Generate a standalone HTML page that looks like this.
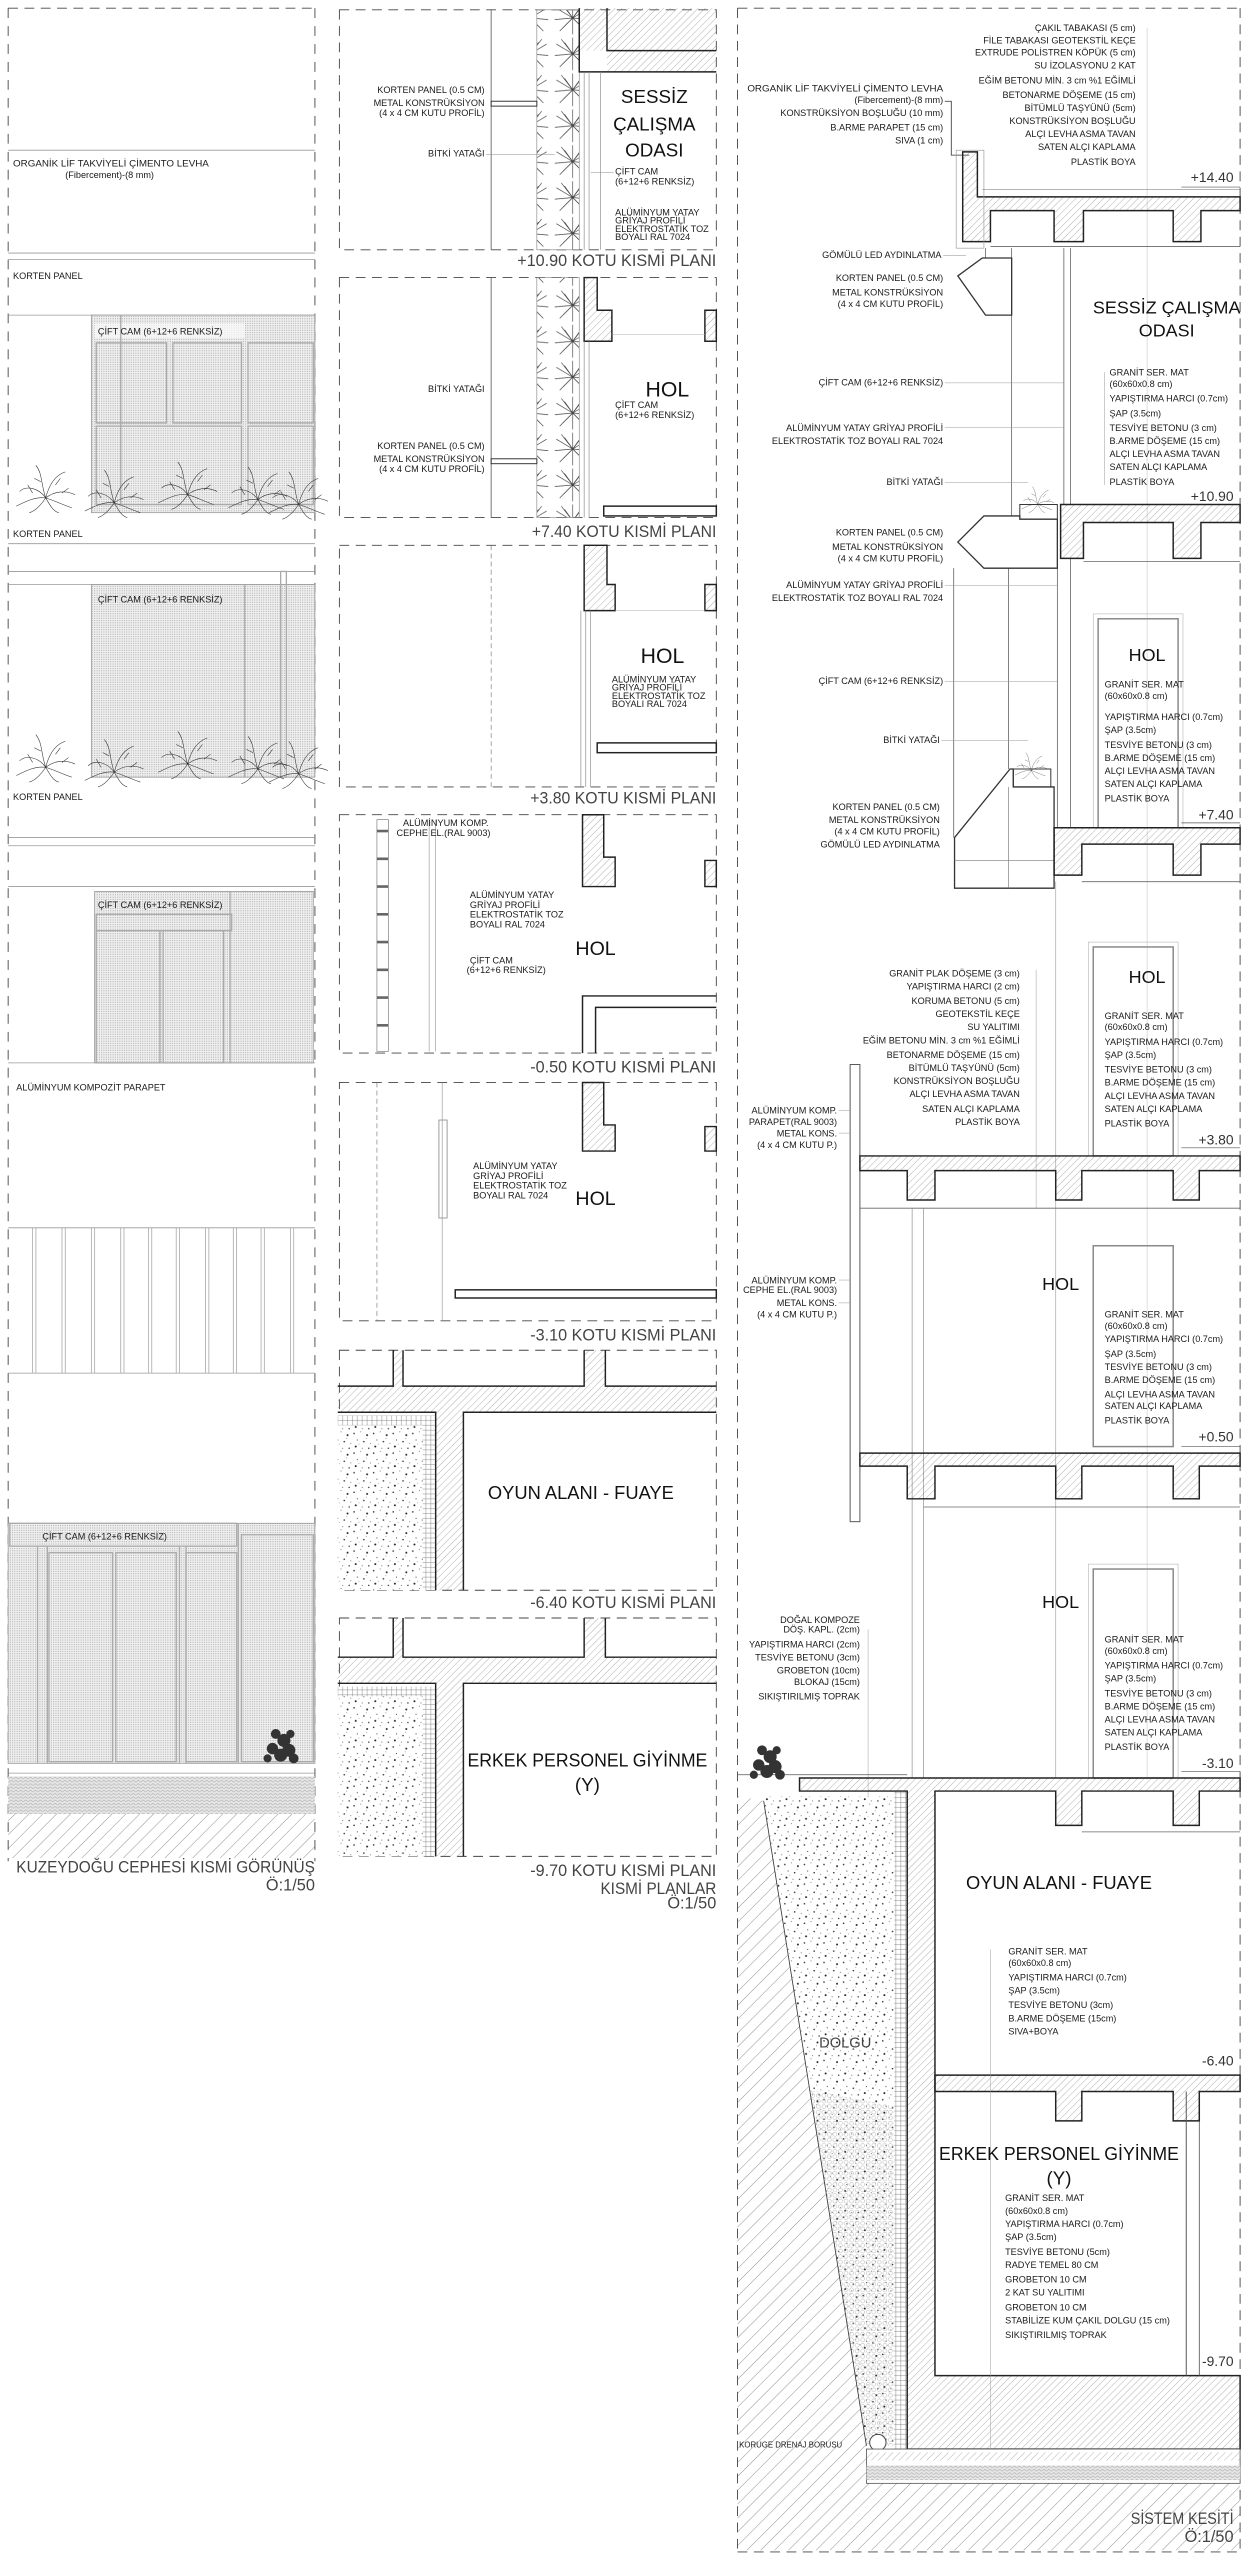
<!DOCTYPE html>
<html><head><meta charset="utf-8">
<style>
html,body{margin:0;padding:0;background:#fff;}
svg{display:block;}
text{font-family:"Liberation Sans",sans-serif;fill:#1a1a1a;}
.s{font-size:5.6px;}
.sr{font-size:5.6px;text-anchor:end;}
.t{font-size:10px;fill:#444;text-anchor:end;}
.big{font-size:11.5px;text-anchor:middle;fill:#111;}
.lv{font-size:8.5px;text-anchor:end;fill:#333;}
</style></head>
<body>
<svg width="1245" height="2560" viewBox="0 0 1245 2560" xmlns="http://www.w3.org/2000/svg">
<defs>
<pattern id="h" width="3" height="3" patternUnits="userSpaceOnUse" patternTransform="rotate(45)"><line x1="0" y1="0" x2="0" y2="3" stroke="#777" stroke-width="0.35"/></pattern>
<pattern id="hb" width="6" height="6" patternUnits="userSpaceOnUse" patternTransform="rotate(45)"><line x1="0" y1="0" x2="0" y2="6" stroke="#555" stroke-width="0.4"/></pattern>
<pattern id="d" width="1.4" height="1.4" patternUnits="userSpaceOnUse"><rect width="1.4" height="1.4" fill="#f1f1f1"/><circle cx="0.7" cy="0.7" r="0.32" fill="#9a9a9a"/></pattern>
<pattern id="g" width="12" height="12" patternUnits="userSpaceOnUse"><rect width="12" height="12" fill="#fff"/><circle cx="1" cy="2" r="0.5" fill="#333"/><circle cx="5" cy="1" r="0.3" fill="#555"/><circle cx="9" cy="3" r="0.6" fill="#222"/><circle cx="3" cy="6" r="0.35" fill="#444"/><circle cx="7" cy="7" r="0.5" fill="#333"/><circle cx="11" cy="8" r="0.3" fill="#555"/><circle cx="2" cy="10" r="0.6" fill="#222"/><circle cx="6" cy="11" r="0.3" fill="#444"/><circle cx="10" cy="11" r="0.45" fill="#333"/><circle cx="8.5" cy="5" r="0.25" fill="#666"/><circle cx="4" cy="8.5" r="0.25" fill="#666"/></pattern>
<pattern id="gs" width="3" height="2" patternUnits="userSpaceOnUse"><rect width="3" height="2" fill="#e6e6e6"/><path d="M0 1 Q0.75 0 1.5 1 T3 1" stroke="#999" stroke-width="0.3" fill="none"/></pattern>
<pattern id="o" width="3.4" height="3.4" patternUnits="userSpaceOnUse"><circle cx="1.7" cy="1.7" r="1.2" fill="none" stroke="#aaa" stroke-width="0.3"/></pattern>
<pattern id="br" width="3" height="3" patternUnits="userSpaceOnUse"><rect width="3" height="3" fill="#fff" stroke="#888" stroke-width="0.3"/></pattern>
<pattern id="lf" width="26" height="22" patternUnits="userSpaceOnUse"><g stroke="#444" stroke-width="0.4" fill="none"><path d="M13 11 L3 5 M13 11 L6 2 M13 11 L13 1 M13 11 L20 2 M13 11 L23 5 M13 11 L24 12 M13 11 L21 19 M13 11 L13 21 M13 11 L5 19 M13 11 L2 12"/><path d="M13 11 L8 4 L10 7 M13 11 L18 4 M13 11 L19 17 M13 11 L7 17"/></g></pattern>
<g id="plant"><g stroke="#333" stroke-width="0.35" fill="none"><path d="M0 0 C-4 -6 -12 -8 -16 -4 M0 0 C-3 -9 -2 -15 -6 -20 M0 0 C2 -8 6 -14 12 -16 M0 0 C5 -4 12 -5 18 -2 M0 0 C-6 -1 -12 2 -18 5 M0 0 C4 1 10 4 16 6 M0 0 C-2 3 -6 8 -10 9 M0 0 C2 3 4 8 8 9 M-8 -3 L-11 -8 M6 -8 L9 -12 M-3 -10 L-7 -12 M10 -3 L14 -6"/></g></g>
<g id="bush"><g fill="#333"><circle cx="0" cy="0" r="4"/><circle cx="5" cy="-3" r="4"/><circle cx="-5" cy="-4" r="3.5"/><circle cx="2" cy="-9" r="4"/><circle cx="-3" cy="-13" r="3"/><circle cx="6" cy="-13" r="2.5"/><circle cx="8" cy="2" r="3"/><circle cx="-8" cy="2" r="2.5"/></g></g>
</defs>
<g transform="scale(1.6317,1.6327)" stroke-linecap="butt">

<!-- ============ LEFT COLUMN ============ -->
<g fill="none" stroke="#444" stroke-width="0.55">
<line x1="5" y1="5" x2="193" y2="5" stroke-dasharray="6,4"/>
<line x1="5" y1="5" x2="5" y2="1140" stroke-dasharray="6,5"/>
<line x1="193" y1="5" x2="193" y2="1140" stroke-dasharray="6,5"/>
</g>
<g stroke="#999" stroke-width="0.5">
<line x1="5" y1="92" x2="193" y2="92"/>
<line x1="5" y1="155" x2="193" y2="155"/><line x1="5" y1="159" x2="193" y2="159"/>
<line x1="5" y1="193" x2="193" y2="193"/>
<line x1="5" y1="333" x2="193" y2="333"/>
<line x1="5" y1="350" x2="193" y2="350"/><line x1="5" y1="358" x2="193" y2="358"/>
<line x1="5" y1="513" x2="193" y2="513"/><line x1="5" y1="518" x2="193" y2="518"/>
<line x1="5" y1="543" x2="193" y2="543"/>
<line x1="5" y1="651" x2="193" y2="651"/>
<line x1="5" y1="752" x2="193" y2="752"/><line x1="5" y1="841" x2="193" y2="841"/>
<line x1="5" y1="1086" x2="193" y2="1086"/>
</g>
<text class="s" x="8" y="102" textLength="120" lengthAdjust="spacingAndGlyphs">ORGANİK LİF TAKVİYELİ ÇİMENTO LEVHA</text>
<text class="s" x="40" y="109">(Fibercement)-(8 mm)</text>
<text class="s" x="8" y="171">KORTEN PANEL</text>
<!-- glass 1 -->
<rect x="56" y="193" width="137" height="121" fill="url(#d)" stroke="#999" stroke-width="0.5"/>
<rect x="58" y="198" width="92" height="9" fill="#fff" opacity="0.6"/>
<g fill="none" stroke="#aaa" stroke-width="0.8">
<rect x="59" y="210" width="43" height="49"/><rect x="106" y="210" width="42" height="49"/><rect x="152" y="210" width="40" height="49"/>
<rect x="59" y="261" width="89" height="48"/><rect x="152" y="261" width="40" height="48"/>
<line x1="74" y1="193" x2="74" y2="309"/>
</g>
<text class="s" x="60" y="205">ÇİFT CAM (6+12+6 RENKSİZ)</text>
<use href="#plant" x="28" y="305"/><use href="#plant" x="70" y="308"/><use href="#plant" x="115" y="303"/><use href="#plant" x="158" y="306"/><use href="#plant" x="183" y="309"/>
<text class="s" x="8" y="329">KORTEN PANEL</text>
<!-- glass 2 -->
<rect x="56" y="358" width="137" height="118" fill="url(#d)" stroke="#999" stroke-width="0.5"/>
<g fill="none" stroke="#aaa" stroke-width="0.8"><line x1="150" y1="358" x2="150" y2="476"/><rect x="172" y="350" width="3.5" height="126"/></g>
<text class="s" x="60" y="369">ÇİFT CAM (6+12+6 RENKSİZ)</text>
<use href="#plant" x="28" y="470"/><use href="#plant" x="70" y="473"/><use href="#plant" x="115" y="468"/><use href="#plant" x="158" y="471"/><use href="#plant" x="183" y="474"/>
<text class="s" x="8" y="490">KORTEN PANEL</text>
<!-- glass 3 -->
<rect x="58" y="546" width="134" height="105" fill="url(#d)" stroke="#999" stroke-width="0.5"/>
<g fill="none" stroke="#aaa" stroke-width="0.8"><rect x="59" y="560" width="83" height="10"/><rect x="59" y="570" width="39" height="81"/><rect x="100" y="570" width="37" height="81"/><line x1="141" y1="546" x2="141" y2="651"/></g>
<text class="s" x="60" y="556">ÇİFT CAM (6+12+6 RENKSİZ)</text>
<text class="s" x="10" y="668">ALÜMİNYUM KOMPOZİT PARAPET</text>
<g stroke="#aaa" stroke-width="0.5">
<line x1="20" y1="752" x2="20" y2="841"/><line x1="22" y1="752" x2="22" y2="841"/>
<line x1="38" y1="752" x2="38" y2="841"/><line x1="40" y1="752" x2="40" y2="841"/>
<line x1="56" y1="752" x2="56" y2="841"/><line x1="58" y1="752" x2="58" y2="841"/>
<line x1="74" y1="752" x2="74" y2="841"/><line x1="76" y1="752" x2="76" y2="841"/>
<line x1="91" y1="752" x2="91" y2="841"/><line x1="93" y1="752" x2="93" y2="841"/>
<line x1="108" y1="752" x2="108" y2="841"/><line x1="110" y1="752" x2="110" y2="841"/>
<line x1="126" y1="752" x2="126" y2="841"/><line x1="128" y1="752" x2="128" y2="841"/>
<line x1="143" y1="752" x2="143" y2="841"/><line x1="145" y1="752" x2="145" y2="841"/>
<line x1="160" y1="752" x2="160" y2="841"/><line x1="162" y1="752" x2="162" y2="841"/>
<line x1="178" y1="752" x2="178" y2="841"/><line x1="180" y1="752" x2="180" y2="841"/>
</g>
<!-- glass 4 -->
<rect x="5" y="933" width="188" height="147" fill="url(#d)" stroke="#999" stroke-width="0.5"/>
<g fill="none" stroke="#aaa" stroke-width="0.8"><rect x="6" y="933" width="139" height="14"/><rect x="30" y="951" width="39" height="128"/><rect x="71" y="951" width="37" height="128"/><line x1="23" y1="947" x2="23" y2="1080"/><line x1="29" y1="947" x2="29" y2="1080"/><line x1="110" y1="947" x2="110" y2="1080"/><line x1="114" y1="947" x2="114" y2="1080"/><rect x="114" y="951" width="31" height="128"/><line x1="146" y1="933" x2="146" y2="1080"/><rect x="148" y="940" width="44" height="139"/></g>
<text class="s" x="26" y="943">ÇİFT CAM (6+12+6 RENKSİZ)</text>
<rect x="5" y="1088" width="188" height="23" fill="url(#gs)"/>
<rect x="5" y="1111" width="188" height="27" fill="url(#hb)"/>
<use href="#bush" x="172" y="1075"/>
<text class="t" x="193" y="1147" textLength="183" lengthAdjust="spacingAndGlyphs">KUZEYDOĞU CEPHESİ KISMİ GÖRÜNÜŞ</text>
<text class="t" x="193" y="1158">Ö:1/50</text>

<!-- ============ MIDDLE COLUMN ============ -->
<g fill="none" stroke="#444" stroke-width="0.55" stroke-dasharray="6,4">
<rect x="208" y="6" width="231" height="147"/>
<rect x="208" y="170" width="231" height="147"/>
<rect x="208" y="334" width="231" height="148"/>
<rect x="208" y="499" width="231" height="146"/>
<rect x="208" y="663" width="231" height="146"/>
<rect x="208" y="827" width="231" height="147"/>
<rect x="208" y="991" width="231" height="146"/>
</g>
<!-- panel 1 -->
<line x1="301" y1="6" x2="301" y2="153" stroke="#555" stroke-width="0.5"/>
<rect x="329" y="6" width="26" height="147" fill="url(#lf)" stroke="#888" stroke-width="0.4"/>
<path d="M355 5 H439 V44 H372 V31 H355 Z" fill="url(#h)"/>
<path d="M355 5 V44 H439 M372 5 V31 H439" fill="none" stroke="#222" stroke-width="0.9"/>
<g stroke="#888" stroke-width="0.4"><line x1="358" y1="44" x2="358" y2="153"/><line x1="361" y1="44" x2="361" y2="153"/><line x1="368" y1="44" x2="368" y2="153"/></g>
<rect x="301" y="62" width="28" height="3" fill="none" stroke="#333" stroke-width="0.6"/>
<text class="big" x="401" y="63">SESSİZ</text><text class="big" x="401" y="80">ÇALIŞMA</text><text class="big" x="401" y="96">ODASI</text>
<text class="sr" x="297" y="57">KORTEN PANEL (0.5 CM)</text>
<text class="sr" x="297" y="65">METAL KONSTRÜKSİYON</text>
<text class="sr" x="297" y="71">(4 x 4 CM KUTU PROFİL)</text>
<text class="sr" x="297" y="96">BİTKİ YATAĞI</text>
<line x1="298" y1="94.5" x2="340" y2="94.5" stroke="#888" stroke-width="0.3"/>
<text class="s" x="377" y="107">ÇİFT CAM</text><text class="s" x="377" y="113">(6+12+6 RENKSİZ)</text>
<line x1="362" y1="105.5" x2="376" y2="105.5" stroke="#888" stroke-width="0.3"/>
<text class="s" x="377" y="132">ALÜMİNYUM YATAY</text><text class="s" x="377" y="137">GRİYAJ PROFİLİ</text><text class="s" x="377" y="142">ELEKTROSTATİK TOZ</text><text class="s" x="377" y="147">BOYALI RAL 7024</text>
<text class="t" x="439" y="163" textLength="122" lengthAdjust="spacingAndGlyphs">+10.90 KOTU KISMİ PLANI</text>
<!-- panel 2 -->
<line x1="301" y1="170" x2="301" y2="317" stroke="#555" stroke-width="0.5"/>
<rect x="329" y="170" width="26" height="147" fill="url(#lf)" stroke="#888" stroke-width="0.4"/>
<path d="M358 170 H366 V190 H375 V209 H358 Z" fill="url(#h)" stroke="#222" stroke-width="0.9"/>
<path d="M432 190 H439 V209 H432 Z" fill="url(#h)" stroke="#222" stroke-width="0.9"/>
<line x1="375" y1="205" x2="432" y2="205" stroke="#aaa" stroke-width="0.3"/>
<g stroke="#888" stroke-width="0.4"><line x1="358" y1="209" x2="358" y2="317"/><line x1="361" y1="209" x2="361" y2="317"/></g>
<rect x="301" y="281" width="28" height="3" fill="none" stroke="#333" stroke-width="0.6"/>
<rect x="370" y="310" width="69" height="6" fill="#fff" stroke="#222" stroke-width="0.9"/>
<text class="big" x="409" y="243" style="font-size:13px">HOL</text>
<text class="s" x="377" y="250">ÇİFT CAM</text><text class="s" x="377" y="256">(6+12+6 RENKSİZ)</text>
<text class="sr" x="297" y="240">BİTKİ YATAĞI</text>
<text class="sr" x="297" y="275">KORTEN PANEL (0.5 CM)</text>
<text class="sr" x="297" y="283">METAL KONSTRÜKSİYON</text>
<text class="sr" x="297" y="289">(4 x 4 CM KUTU PROFİL)</text>
<text class="t" x="439" y="329" textLength="113" lengthAdjust="spacingAndGlyphs">+7.40 KOTU KISMİ PLANI</text>
<!-- panel 3 -->
<line x1="301" y1="334" x2="301" y2="482" stroke="#777" stroke-width="0.4" stroke-dasharray="3,2"/>
<path d="M358 334 H372 V358 H377 V374 H358 Z" fill="url(#h)" stroke="#222" stroke-width="0.9"/>
<path d="M432 358 H439 V374 H432 Z" fill="url(#h)" stroke="#222" stroke-width="0.9"/>
<line x1="377" y1="374" x2="432" y2="374" stroke="#aaa" stroke-width="0.3"/>
<g stroke="#888" stroke-width="0.4"><line x1="356" y1="374" x2="356" y2="482"/><line x1="359" y1="374" x2="359" y2="482"/><line x1="362" y1="374" x2="362" y2="482"/></g>
<rect x="366" y="455" width="73" height="6" fill="#fff" stroke="#222" stroke-width="0.9"/>
<text class="big" x="406" y="406" style="font-size:13px">HOL</text>
<text class="s" x="375" y="418">ALÜMİNYUM YATAY</text><text class="s" x="375" y="423">GRİYAJ PROFİLİ</text><text class="s" x="375" y="428">ELEKTROSTATİK TOZ</text><text class="s" x="375" y="433">BOYALI RAL 7024</text>
<text class="t" x="439" y="492" textLength="114" lengthAdjust="spacingAndGlyphs">+3.80 KOTU KISMİ PLANI</text>
<!-- panel 4 -->
<rect x="231" y="502" width="7" height="142" fill="none" stroke="#777" stroke-width="0.4"/>
<g stroke="#666" stroke-width="1.6"><line x1="231" y1="509" x2="238" y2="509"/><line x1="231" y1="526" x2="238" y2="526"/><line x1="231" y1="543" x2="238" y2="543"/><line x1="231" y1="560" x2="238" y2="560"/><line x1="231" y1="577" x2="238" y2="577"/><line x1="231" y1="594" x2="238" y2="594"/><line x1="231" y1="611" x2="238" y2="611"/><line x1="231" y1="628" x2="238" y2="628"/></g>
<g stroke="#999" stroke-width="0.4"><line x1="263" y1="502" x2="263" y2="644"/><line x1="267" y1="502" x2="267" y2="644"/></g>
<path d="M357 499 H370 V525 H377 V543 H357 Z" fill="url(#h)" stroke="#222" stroke-width="0.9"/>
<path d="M432 527 H439 V543 H432 Z" fill="url(#h)" stroke="#222" stroke-width="0.9"/>
<path d="M357 645 V610 H439 M365 645 V617 H439" fill="none" stroke="#222" stroke-width="0.9"/>
<text class="s" x="247" y="506">ALÜMİNYUM KOMP.</text><text class="s" x="243" y="512">CEPHE EL.(RAL 9003)</text>
<text class="s" x="288" y="550">ALÜMİNYUM YATAY</text><text class="s" x="288" y="556">GRİYAJ PROFİLİ</text><text class="s" x="288" y="562">ELEKTROSTATİK TOZ</text><text class="s" x="288" y="568">BOYALI RAL 7024</text>
<text class="s" x="288" y="590">ÇİFT CAM</text><text class="s" x="286" y="596">(6+12+6 RENKSİZ)</text>
<text class="big" x="365" y="585" style="font-size:12px">HOL</text>
<text class="t" x="439" y="657" textLength="114" lengthAdjust="spacingAndGlyphs">-0.50 KOTU KISMİ PLANI</text>
<!-- panel 5 -->
<line x1="231" y1="663" x2="231" y2="809" stroke="#777" stroke-width="0.4" stroke-dasharray="3,2"/>
<rect x="269" y="686" width="5" height="60" fill="none" stroke="#888" stroke-width="0.5"/>
<line x1="271" y1="663" x2="271" y2="809" stroke="#999" stroke-width="0.4"/>
<path d="M357 663 H370 V689 H377 V705 H357 Z" fill="url(#h)" stroke="#222" stroke-width="0.9"/>
<path d="M432 690 H439 V705 H432 Z" fill="url(#h)" stroke="#222" stroke-width="0.9"/>
<rect x="279" y="790" width="160" height="5" fill="#fff" stroke="#222" stroke-width="0.9"/>
<text class="s" x="290" y="716">ALÜMİNYUM YATAY</text><text class="s" x="290" y="722">GRİYAJ PROFİLİ</text><text class="s" x="290" y="728">ELEKTROSTATİK TOZ</text><text class="s" x="290" y="734">BOYALI RAL 7024</text>
<text class="big" x="365" y="738" style="font-size:12px">HOL</text>
<text class="t" x="439" y="821" textLength="114" lengthAdjust="spacingAndGlyphs">-3.10 KOTU KISMİ PLANI</text>
<!-- panel 6 -->
<rect x="207" y="849" width="232" height="16" fill="url(#h)"/>
<rect x="241" y="827" width="6" height="22" fill="url(#h)"/>
<rect x="358" y="827" width="13" height="22" fill="url(#h)"/>
<rect x="267" y="865" width="17" height="109" fill="url(#h)"/>
<rect x="207" y="873" width="52" height="101" fill="url(#g)"/>
<rect x="259" y="867" width="8" height="107" fill="url(#br)"/>
<rect x="207" y="867" width="52" height="6" fill="url(#br)"/>
<path d="M241 827 V849 H207 M247 827 V849 H358 V827 M371 827 V849 H439 M284 974 V865 H439 M207 865 H267 V974" fill="none" stroke="#222" stroke-width="0.9"/>
<text class="big" x="356" y="918" textLength="114" lengthAdjust="spacingAndGlyphs">OYUN ALANI - FUAYE</text>
<text class="t" x="439" y="985" textLength="114" lengthAdjust="spacingAndGlyphs">-6.40 KOTU KISMİ PLANI</text>
<!-- panel 7 -->
<rect x="207" y="1015" width="232" height="16" fill="url(#h)"/>
<rect x="241" y="991" width="6" height="24" fill="url(#h)"/>
<rect x="358" y="991" width="13" height="24" fill="url(#h)"/>
<rect x="267" y="1031" width="17" height="106" fill="url(#h)"/>
<rect x="207" y="1039" width="52" height="98" fill="url(#g)"/>
<rect x="259" y="1033" width="8" height="104" fill="url(#br)"/>
<rect x="207" y="1033" width="52" height="6" fill="url(#br)"/>
<path d="M241 991 V1015 H207 M247 991 V1015 H358 V991 M371 991 V1015 H439 M284 1137 V1031 H439 M207 1031 H267 V1137" fill="none" stroke="#222" stroke-width="0.9"/>
<text class="big" x="360" y="1082" textLength="147" lengthAdjust="spacingAndGlyphs">ERKEK PERSONEL GİYİNME</text>
<text class="big" x="360" y="1097">(Y)</text>
<text class="t" x="439" y="1149" textLength="114" lengthAdjust="spacingAndGlyphs">-9.70 KOTU KISMİ PLANI</text>
<text class="t" x="439" y="1160" textLength="71" lengthAdjust="spacingAndGlyphs">KISMİ PLANLAR</text>
<text class="t" x="439" y="1169">Ö:1/50</text>

<!-- ============ RIGHT COLUMN ============ -->
<g fill="none" stroke="#444" stroke-width="0.55" stroke-dasharray="6,4">
<line x1="452" y1="5" x2="760" y2="5"/><line x1="452" y1="5" x2="452" y2="1563"/><line x1="760" y1="5" x2="760" y2="1563"/><line x1="452" y1="1563" x2="760" y2="1563"/>
</g>
<text class="sr" x="696" y="19">ÇAKIL TABAKASI (5 cm)</text>
<text class="sr" x="696" y="26.5">FİLE TABAKASI GEOTEKSTİL KEÇE</text>
<text class="sr" x="696" y="34">EXTRUDE POLİSTREN KÖPÜK (5 cm)</text>
<text class="sr" x="696" y="42">SU İZOLASYONU 2 KAT</text>
<text class="sr" x="696" y="51">EĞİM BETONU MİN. 3 cm %1 EĞİMLİ</text>
<text class="sr" x="696" y="60">BETONARME DÖŞEME (15 cm)</text>
<text class="sr" x="696" y="68">BİTÜMLÜ TAŞYÜNÜ (5cm)</text>
<text class="sr" x="696" y="76">KONSTRÜKSİYON BOŞLUĞU</text>
<text class="sr" x="696" y="84">ALÇI LEVHA ASMA TAVAN</text>
<text class="sr" x="696" y="92">SATEN ALÇI KAPLAMA</text>
<text class="sr" x="696" y="101">PLASTİK BOYA</text>
<line x1="703" y1="17" x2="703" y2="1090" stroke="#bbb" stroke-width="0.3"/>
<text class="sr" x="578" y="56" textLength="120" lengthAdjust="spacingAndGlyphs">ORGANİK LİF TAKVİYELİ ÇİMENTO LEVHA</text>
<text class="sr" x="578" y="63">(Fibercement)-(8 mm)</text>
<text class="sr" x="578" y="71">KONSTRÜKSİYON BOŞLUĞU (10 mm)</text>
<text class="sr" x="578" y="80">B.ARME PARAPET (15 cm)</text>
<text class="sr" x="578" y="88">SIVA (1 cm)</text>
<path d="M579 62 H583 V95 H594" fill="none" stroke="#333" stroke-width="0.5"/>
<path d="M590 93 H599 V120.6 H760 V129 H736 V148 H719 V129 H664 V148 H646 V129 H607 V148 H590 Z" fill="url(#h)" stroke="#222" stroke-width="0.9"/>
<rect x="586" y="92" width="17" height="60" fill="none" stroke="#999" stroke-width="0.4"/>
<line x1="602" y1="116" x2="760" y2="116" stroke="#888" stroke-width="0.4"/>
<text class="lv" x="756" y="111.5">+14.40</text>
<line x1="724" y1="114.6" x2="760" y2="114.6" stroke="#555" stroke-width="0.4"/>
<line x1="607" y1="151" x2="760" y2="151" stroke="#666" stroke-width="0.5"/>
<text class="sr" x="577" y="158">GÖMÜLÜ LED AYDINLATMA</text>
<line x1="578" y1="156.5" x2="592" y2="156.5" stroke="#888" stroke-width="0.3"/>
<g stroke="#555" stroke-width="0.45">
<line x1="604" y1="152" x2="604" y2="193"/>
<line x1="620" y1="152" x2="620" y2="316"/>
<line x1="584.5" y1="348" x2="584.5" y2="513"/>
<line x1="618" y1="348" x2="618" y2="471"/>
<line x1="652" y1="152" x2="652" y2="309"/><line x1="656" y1="152" x2="656" y2="309"/>
<line x1="648" y1="342" x2="648" y2="507"/><line x1="656" y1="342" x2="656" y2="507"/>
<line x1="647" y1="540" x2="647" y2="1089" stroke="#aaa"/>
</g>
<path d="M587 169 L602 158 H620 V193 H604 Z" fill="#fff" stroke="#333" stroke-width="0.8"/>
<text class="sr" x="578" y="172">KORTEN PANEL (0.5 CM)</text>
<text class="sr" x="578" y="181">METAL KONSTRÜKSİYON</text>
<text class="sr" x="578" y="188">(4 x 4 CM KUTU PROFİL)</text>
<text class="big" x="715" y="192" style="font-size:11px">SESSİZ ÇALIŞMA</text>
<text class="big" x="715" y="206" style="font-size:11px">ODASI</text>
<text class="sr" x="578" y="236">ÇİFT CAM (6+12+6 RENKSİZ)</text>
<text class="sr" x="578" y="264">ALÜMİNYUM YATAY GRİYAJ PROFİLİ</text>
<text class="sr" x="578" y="272">ELEKTROSTATİK TOZ BOYALI RAL 7024</text>
<text class="sr" x="578" y="297">BİTKİ YATAĞI</text>
<g stroke="#999" stroke-width="0.3"><line x1="579" y1="234.5" x2="652" y2="234.5"/><line x1="579" y1="262" x2="652" y2="262"/><line x1="579" y1="295.5" x2="630" y2="295.5"/></g>
<text class="s" x="680" y="230">GRANİT SER. MAT</text><text class="s" x="680" y="237">(60x60x0.8 cm)</text><text class="s" x="680" y="246">YAPIŞTIRMA HARCI (0.7cm)</text><text class="s" x="680" y="255">ŞAP (3.5cm)</text><text class="s" x="680" y="264">TESVİYE BETONU (3 cm)</text><text class="s" x="680" y="272">B.ARME DÖŞEME (15 cm)</text><text class="s" x="680" y="280">ALÇI LEVHA ASMA TAVAN</text><text class="s" x="680" y="288">SATEN ALÇI KAPLAMA</text><text class="s" x="680" y="297">PLASTİK BOYA</text>
<line x1="677" y1="228" x2="677" y2="297" stroke="#999" stroke-width="0.3"/>
<text class="lv" x="756" y="307">+10.90</text>
<line x1="724" y1="309" x2="760" y2="309" stroke="#555" stroke-width="0.4"/>
<path d="M650 309 H760 V320 H736 V342 H719 V320 H664 V342 H650 Z" fill="url(#h)" stroke="#222" stroke-width="0.9"/>
<line x1="664" y1="344" x2="760" y2="344" stroke="#666" stroke-width="0.5"/>
<rect x="625" y="309" width="23" height="9" fill="#fff" stroke="#333" stroke-width="0.6"/>
<use href="#plant" transform="translate(636 309) scale(0.55)"/>
<path d="M587 332 L603 316 H625 V318 H648 V348 H603 Z" fill="#fff" stroke="#333" stroke-width="0.8"/>
<text class="sr" x="578" y="328">KORTEN PANEL (0.5 CM)</text>
<text class="sr" x="578" y="337">METAL KONSTRÜKSİYON</text>
<text class="sr" x="578" y="344">(4 x 4 CM KUTU PROFİL)</text>
<text class="sr" x="578" y="360">ALÜMİNYUM YATAY GRİYAJ PROFİLİ</text>
<text class="sr" x="578" y="368">ELEKTROSTATİK TOZ BOYALI RAL 7024</text>
<text class="sr" x="578" y="419">ÇİFT CAM (6+12+6 RENKSİZ)</text>
<text class="sr" x="576" y="455">BİTKİ YATAĞI</text>
<g stroke="#999" stroke-width="0.3"><line x1="579" y1="358.5" x2="648" y2="358.5"/><line x1="579" y1="417.5" x2="648" y2="417.5"/><line x1="577" y1="453.5" x2="630" y2="453.5"/></g>
<rect x="670" y="376" width="55" height="131" fill="none" stroke="#bbb" stroke-width="0.4"/>
<rect x="673" y="379" width="49" height="128" fill="none" stroke="#888" stroke-width="0.9"/>
<text class="big" x="703" y="405" style="font-size:11px">HOL</text>
<text class="s" x="677" y="421">GRANİT SER. MAT</text><text class="s" x="677" y="428">(60x60x0.8 cm)</text><text class="s" x="677" y="441">YAPIŞTIRMA HARCI (0.7cm)</text><text class="s" x="677" y="449">ŞAP (3.5cm)</text><text class="s" x="677" y="458">TESVİYE BETONU (3 cm)</text><text class="s" x="677" y="466">B.ARME DÖŞEME (15 cm)</text><text class="s" x="677" y="474">ALÇI LEVHA ASMA TAVAN</text><text class="s" x="677" y="482">SATEN ALÇI KAPLAMA</text><text class="s" x="677" y="491">PLASTİK BOYA</text>
<text class="lv" x="756" y="502">+7.40</text>
<line x1="724" y1="504" x2="760" y2="504" stroke="#555" stroke-width="0.4"/>
<rect x="621" y="471" width="23" height="11" fill="#fff" stroke="#333" stroke-width="0.6"/>
<use href="#plant" transform="translate(632 472) scale(0.55)"/>
<path d="M585 513 L619 471 H621 V482 H646 V544 H585 Z" fill="none" stroke="#333" stroke-width="0.8"/>
<line x1="618" y1="482" x2="618" y2="544" stroke="#777" stroke-width="0.4"/>
<line x1="585" y1="527" x2="646" y2="527" stroke="#777" stroke-width="0.4"/>
<text class="sr" x="576" y="496">KORTEN PANEL (0.5 CM)</text>
<text class="sr" x="576" y="504">METAL KONSTRÜKSİYON</text>
<text class="sr" x="576" y="511">(4 x 4 CM KUTU PROFİL)</text>
<text class="sr" x="576" y="519">GÖMÜLÜ LED AYDINLATMA</text>
<path d="M646 507 H760 V517 H736 V536 H719 V517 H663 V536 H646 Z" fill="url(#h)" stroke="#222" stroke-width="0.9"/>
<line x1="663" y1="540" x2="760" y2="540" stroke="#666" stroke-width="0.5"/>
<rect x="667" y="577" width="55" height="131" fill="none" stroke="#bbb" stroke-width="0.4"/>
<rect x="670" y="580" width="49" height="128" fill="none" stroke="#888" stroke-width="0.9"/>
<text class="big" x="703" y="602" style="font-size:11px">HOL</text>
<text class="sr" x="625" y="598">GRANİT PLAK DÖŞEME (3 cm)</text><text class="sr" x="625" y="606">YAPIŞTIRMA HARCI (2 cm)</text><text class="sr" x="625" y="615">KORUMA BETONU (5 cm)</text><text class="sr" x="625" y="623">GEOTEKSTİL KEÇE</text><text class="sr" x="625" y="631">SU YALITIMI</text><text class="sr" x="625" y="639">EĞİM BETONU MİN. 3 cm %1 EĞİMLİ</text><text class="sr" x="625" y="648">BETONARME DÖŞEME (15 cm)</text><text class="sr" x="625" y="656">BİTÜMLÜ TAŞYÜNÜ (5cm)</text><text class="sr" x="625" y="664">KONSTRÜKSİYON BOŞLUĞU</text><text class="sr" x="625" y="672">ALÇI LEVHA ASMA TAVAN</text><text class="sr" x="625" y="681">SATEN ALÇI KAPLAMA</text><text class="sr" x="625" y="689">PLASTİK BOYA</text>
<line x1="635" y1="594" x2="635" y2="740" stroke="#999" stroke-width="0.3"/>
<text class="s" x="677" y="624">GRANİT SER. MAT</text><text class="s" x="677" y="631">(60x60x0.8 cm)</text><text class="s" x="677" y="640">YAPIŞTIRMA HARCI (0.7cm)</text><text class="s" x="677" y="648">ŞAP (3.5cm)</text><text class="s" x="677" y="657">TESVİYE BETONU (3 cm)</text><text class="s" x="677" y="665">B.ARME DÖŞEME (15 cm)</text><text class="s" x="677" y="673">ALÇI LEVHA ASMA TAVAN</text><text class="s" x="677" y="681">SATEN ALÇI KAPLAMA</text><text class="s" x="677" y="690">PLASTİK BOYA</text>
<text class="lv" x="756" y="701">+3.80</text>
<line x1="724" y1="703" x2="760" y2="703" stroke="#555" stroke-width="0.4"/>
<rect x="521" y="652" width="6" height="280" fill="#fff" stroke="#555" stroke-width="0.6"/>
<text class="sr" x="513" y="682">ALÜMİNYUM KOMP.</text><text class="sr" x="513" y="689">PARAPET(RAL 9003)</text><text class="sr" x="513" y="696">METAL KONS.</text><text class="sr" x="513" y="703">(4 x 4 CM KUTU P.)</text>
<text class="sr" x="513" y="786">ALÜMİNYUM KOMP.</text><text class="sr" x="513" y="792">CEPHE EL.(RAL 9003)</text><text class="sr" x="513" y="800">METAL KONS.</text><text class="sr" x="513" y="807">(4 x 4 CM KUTU P.)</text>
<g stroke="#999" stroke-width="0.3"><line x1="514" y1="680" x2="521" y2="680"/><line x1="514" y1="694" x2="521" y2="694"/><line x1="514" y1="784" x2="521" y2="784"/><line x1="514" y1="798" x2="521" y2="798"/></g>
<path d="M527 708 H760 V717 H735 V735 H719 V717 H663 V735 H647 V717 H573 V735 H556 V717 H527 Z" fill="url(#h)" stroke="#222" stroke-width="0.9"/>
<line x1="527" y1="740" x2="760" y2="740" stroke="#666" stroke-width="0.5"/>
<g stroke="#888" stroke-width="0.4"><line x1="559" y1="740" x2="559" y2="1089"/><line x1="566" y1="740" x2="566" y2="1089"/></g>
<text class="big" x="650" y="790" style="font-size:11px">HOL</text>
<rect x="670" y="763" width="49" height="123" fill="none" stroke="#888" stroke-width="0.9"/>
<text class="s" x="677" y="807">GRANİT SER. MAT</text><text class="s" x="677" y="814">(60x60x0.8 cm)</text><text class="s" x="677" y="822">YAPIŞTIRMA HARCI (0.7cm)</text><text class="s" x="677" y="831">ŞAP (3.5cm)</text><text class="s" x="677" y="839">TESVİYE BETONU (3 cm)</text><text class="s" x="677" y="847">B.ARME DÖŞEME (15 cm)</text><text class="s" x="677" y="856">ALÇI LEVHA ASMA TAVAN</text><text class="s" x="677" y="863">SATEN ALÇI KAPLAMA</text><text class="s" x="677" y="872">PLASTİK BOYA</text>
<text class="lv" x="756" y="883">+0.50</text>
<line x1="724" y1="886" x2="760" y2="886" stroke="#555" stroke-width="0.4"/>
<path d="M527 890 H760 V898 H735 V918 H719 V898 H663 V918 H647 V898 H573 V918 H556 V898 H527 Z" fill="url(#h)" stroke="#222" stroke-width="0.9"/>
<line x1="566" y1="923" x2="760" y2="923" stroke="#666" stroke-width="0.5"/>
<text class="big" x="650" y="985" style="font-size:11px">HOL</text>
<rect x="667" y="958" width="55" height="131" fill="none" stroke="#bbb" stroke-width="0.4"/>
<rect x="670" y="961" width="49" height="128" fill="none" stroke="#888" stroke-width="0.9"/>
<text class="sr" x="527" y="994">DOĞAL KOMPOZE</text><text class="sr" x="527" y="1000">DÖŞ. KAPL. (2cm)</text><text class="sr" x="527" y="1009">YAPIŞTIRMA HARCI (2cm)</text><text class="sr" x="527" y="1017">TESVİYE BETONU (3cm)</text><text class="sr" x="527" y="1025">GROBETON (10cm)</text><text class="sr" x="527" y="1032">BLOKAJ (15cm)</text><text class="sr" x="527" y="1041">SIKIŞTIRILMIŞ TOPRAK</text>
<line x1="532" y1="998" x2="532" y2="1100" stroke="#999" stroke-width="0.3"/>
<text class="s" x="677" y="1006">GRANİT SER. MAT</text><text class="s" x="677" y="1013">(60x60x0.8 cm)</text><text class="s" x="677" y="1022">YAPIŞTIRMA HARCI (0.7cm)</text><text class="s" x="677" y="1030">ŞAP (3.5cm)</text><text class="s" x="677" y="1039">TESVİYE BETONU (3 cm)</text><text class="s" x="677" y="1047">B.ARME DÖŞEME (15 cm)</text><text class="s" x="677" y="1055">ALÇI LEVHA ASMA TAVAN</text><text class="s" x="677" y="1063">SATEN ALÇI KAPLAMA</text><text class="s" x="677" y="1072">PLASTİK BOYA</text>
<text class="lv" x="756" y="1083">-3.10</text>
<line x1="724" y1="1085" x2="760" y2="1085" stroke="#555" stroke-width="0.4"/>
<path d="M452 1100 L468 1103 L531 1498 V1521 H760 V1562 H452 Z" fill="url(#hb)"/>
<path d="M468 1100 H548 V1498 H531 Z" fill="url(#g)"/>
<path d="M468 1100 H548 V1200 L482 1180 Z" fill="url(#g)" opacity="0.7"/>
<path d="M496 1280 L548 1290 V1498 H531 Z" fill="url(#o)"/>
<path d="M468 1103 L531 1498" stroke="#333" stroke-width="0.5"/>
<rect x="548" y="1097" width="8" height="403" fill="url(#br)"/>
<line x1="452" y1="1087" x2="556" y2="1087" stroke="#555" stroke-width="0.5"/>
<use href="#bush" x="470" y="1085"/>
<text x="518" y="1254" style="font-size:9px;text-anchor:middle;fill:#444">DOLGU</text>
<text class="s" x="453" y="1499" style="font-size:4.8px">KORUGE DRENAJ BORUSU</text>
<circle cx="538" cy="1496" r="5" fill="#fff" stroke="#444" stroke-width="0.6"/>
<path d="M490 1089 H760 V1097 H735 V1118 H719 V1097 H663 V1118 H647 V1097 H573 V1455 H760 V1500 H556 V1097 H490 Z" fill="url(#h)" stroke="#222" stroke-width="0.9"/>
<path d="M573 1271 H760 V1281 H735 V1299 H719 V1281 H663 V1299 H647 V1281 H573 Z" fill="url(#h)" stroke="#222" stroke-width="0.9"/>
<rect x="531" y="1500" width="229" height="21" fill="#fff" stroke="#555" stroke-width="0.5"/>
<rect x="531" y="1502" width="229" height="5" fill="url(#h)"/>
<rect x="531" y="1510" width="229" height="9" fill="url(#gs)"/>
<line x1="663" y1="1122" x2="760" y2="1122" stroke="#666" stroke-width="0.5"/>
<line x1="727" y1="1281" x2="727" y2="1455" stroke="#555" stroke-width="0.6"/>
<line x1="735" y1="1299" x2="735" y2="1455" stroke="#555" stroke-width="0.5"/>
<text class="big" x="649" y="1157" textLength="114" lengthAdjust="spacingAndGlyphs">OYUN ALANI - FUAYE</text>
<text class="s" x="618" y="1197">GRANİT SER. MAT</text><text class="s" x="618" y="1204">(60x60x0.8 cm)</text><text class="s" x="618" y="1213">YAPIŞTIRMA HARCI (0.7cm)</text><text class="s" x="618" y="1221">ŞAP (3.5cm)</text><text class="s" x="618" y="1230">TESVİYE BETONU (3cm)</text><text class="s" x="618" y="1238">B.ARME DÖŞEME (15cm)</text><text class="s" x="618" y="1246">SIVA+BOYA</text>
<line x1="607" y1="1194" x2="607" y2="1500" stroke="#999" stroke-width="0.3"/>
<text class="lv" x="756" y="1265">-6.40</text>
<text class="big" x="649" y="1323" textLength="147" lengthAdjust="spacingAndGlyphs">ERKEK PERSONEL GİYİNME</text>
<text class="big" x="649" y="1338">(Y)</text>
<text class="s" x="616" y="1348">GRANİT SER. MAT</text><text class="s" x="616" y="1356">(60x60x0.8 cm)</text><text class="s" x="616" y="1364">YAPIŞTIRMA HARCI (0.7cm)</text><text class="s" x="616" y="1372">ŞAP (3.5cm)</text><text class="s" x="616" y="1381">TESVİYE BETONU (5cm)</text><text class="s" x="616" y="1389">RADYE TEMEL 80 CM</text><text class="s" x="616" y="1398">GROBETON 10 CM</text><text class="s" x="616" y="1406">2 KAT SU YALITIMI</text><text class="s" x="616" y="1415">GROBETON 10 CM</text><text class="s" x="616" y="1423">STABİLİZE KUM ÇAKIL DOLGU (15 cm)</text><text class="s" x="616" y="1432">SIKIŞTIRILMIŞ TOPRAK</text>
<text class="lv" x="756" y="1449">-9.70</text>
<text class="t" x="756" y="1546" textLength="63" lengthAdjust="spacingAndGlyphs">SİSTEM KESİTİ</text>
<text class="t" x="756" y="1557">Ö:1/50</text>
</g>
</svg>
</body></html>
